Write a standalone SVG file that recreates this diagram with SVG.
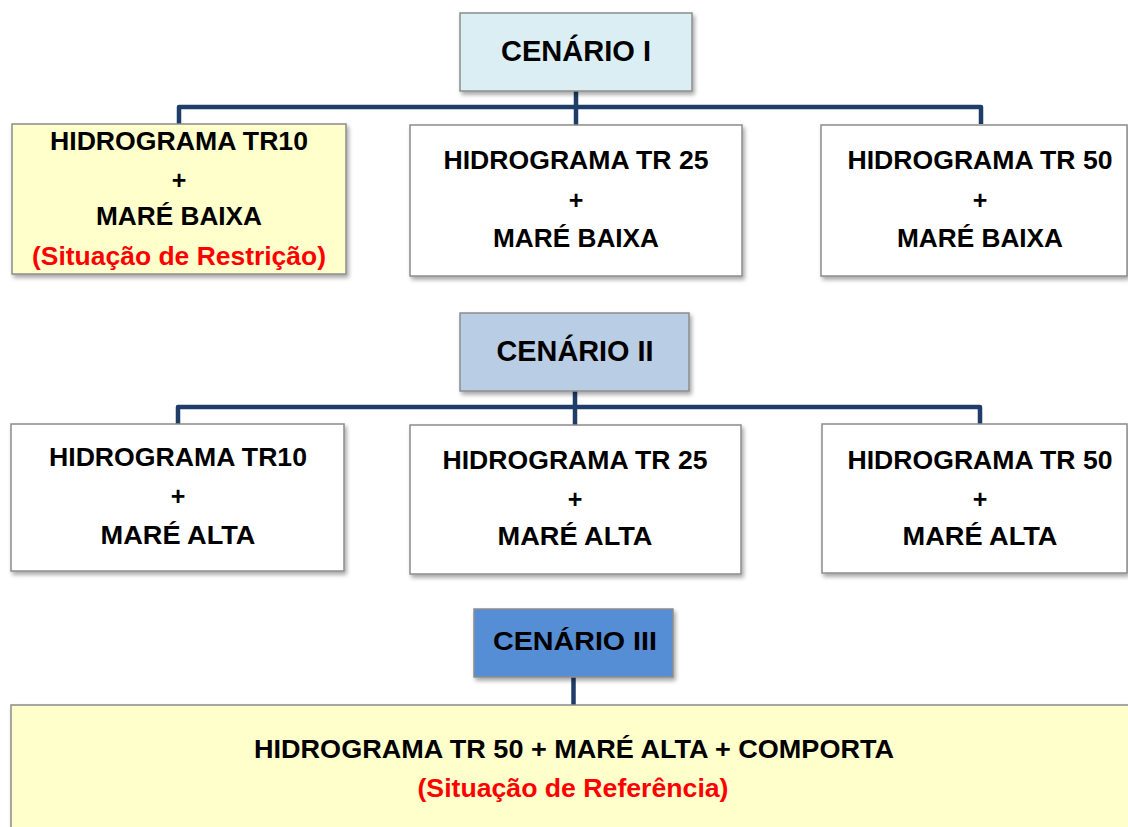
<svg xmlns="http://www.w3.org/2000/svg" width="1128" height="827" viewBox="0 0 1128 827">
<defs>
<filter id="sh" x="-10%" y="-10%" width="120%" height="130%">
<feDropShadow dx="2" dy="3" stdDeviation="2" flood-color="#000" flood-opacity="0.35"/>
</filter>
</defs>
<style>
.box{stroke:#8c8c8c;stroke-width:1.5;filter:url(#sh)}
.w{fill:#ffffff}
.y{fill:#ffffcc}
.c1{fill:#dbeef4}
.c2{fill:#b9cde5}
.c3{fill:#558ed5}
text{font-family:"Liberation Sans",Arial,sans-serif;font-weight:bold;text-anchor:middle;fill:#000}
.t{font-size:25px}
.b{font-size:26px}
.h{font-size:29px}
.r{fill:#ff0000}
.con{fill:none;stroke:#1f3d68;stroke-width:4.5;stroke-linejoin:round}
</style>
<g id="connectors">
<path class="con" d="M576 91 V107 M179 124 V107 H981 V124 M576 107 V125"/>
<path class="con" d="M575 391 V407 M178 424 V407 H980 V425 M575 407 V425"/>
<path class="con" d="M573.5 677 V705"/>
</g>
<g id="cenario1">
<rect class="box c1" x="460" y="13" width="232" height="78"/>
<text class="h" x="576" y="61" textLength="150" lengthAdjust="spacingAndGlyphs">CENÁRIO I</text>
</g>
<g id="r1tr10">
<rect class="box y" x="12" y="124" width="334" height="150"/>
<text class="t" x="179" y="150" textLength="258" lengthAdjust="spacingAndGlyphs">HIDROGRAMA TR10</text>
<text class="t" x="179" y="189">+</text>
<text class="t" x="179" y="225" textLength="166" lengthAdjust="spacingAndGlyphs">MARÉ BAIXA</text>
<text class="t r" x="179" y="265" textLength="294" lengthAdjust="spacingAndGlyphs">(Situação de Restrição)</text>
</g>
<g id="r1tr25">
<rect class="box w" x="410" y="125" width="332" height="151"/>
<text class="t" x="576" y="169" textLength="265" lengthAdjust="spacingAndGlyphs">HIDROGRAMA TR 25</text>
<text class="t" x="576" y="209">+</text>
<text class="t" x="576" y="247" textLength="166" lengthAdjust="spacingAndGlyphs">MARÉ BAIXA</text>
</g>
<g id="r1tr50">
<rect class="box w" x="821" y="125" width="306" height="151"/>
<text class="t" x="980" y="169" textLength="265" lengthAdjust="spacingAndGlyphs">HIDROGRAMA TR 50</text>
<text class="t" x="980" y="209">+</text>
<text class="t" x="980" y="247" textLength="166" lengthAdjust="spacingAndGlyphs">MARÉ BAIXA</text>
</g>
<g id="cenario2">
<rect class="box c2" x="460" y="313" width="229" height="78"/>
<text class="h" x="575" y="361" textLength="157" lengthAdjust="spacingAndGlyphs">CENÁRIO II</text>
</g>
<g id="r2tr10">
<rect class="box w" x="11" y="424" width="333" height="147"/>
<text class="t" x="178" y="466" textLength="258" lengthAdjust="spacingAndGlyphs">HIDROGRAMA TR10</text>
<text class="t" x="178" y="505">+</text>
<text class="t" x="178" y="544" textLength="155" lengthAdjust="spacingAndGlyphs">MARÉ ALTA</text>
</g>
<g id="r2tr25">
<rect class="box w" x="410" y="425" width="331" height="149"/>
<text class="t" x="575" y="469" textLength="265" lengthAdjust="spacingAndGlyphs">HIDROGRAMA TR 25</text>
<text class="t" x="575" y="508">+</text>
<text class="t" x="575" y="545" textLength="155" lengthAdjust="spacingAndGlyphs">MARÉ ALTA</text>
</g>
<g id="r2tr50">
<rect class="box w" x="822" y="424" width="305" height="149"/>
<text class="t" x="980" y="469" textLength="265" lengthAdjust="spacingAndGlyphs">HIDROGRAMA TR 50</text>
<text class="t" x="980" y="508">+</text>
<text class="t" x="980" y="545" textLength="155" lengthAdjust="spacingAndGlyphs">MARÉ ALTA</text>
</g>
<g id="cenario3">
<rect class="box c3" x="474" y="609" width="199" height="68"/>
<text class="t" x="575" y="650" textLength="164" lengthAdjust="spacingAndGlyphs">CENÁRIO III</text>
</g>
<g id="ref">
<rect class="box y" x="11" y="705" width="1130" height="140"/>
<text class="b" x="574" y="758" textLength="640" lengthAdjust="spacingAndGlyphs">HIDROGRAMA TR 50 + MARÉ ALTA + COMPORTA</text>
<text class="b r" x="573" y="797" textLength="311" lengthAdjust="spacingAndGlyphs">(Situação de Referência)</text>
</g>
</svg>
